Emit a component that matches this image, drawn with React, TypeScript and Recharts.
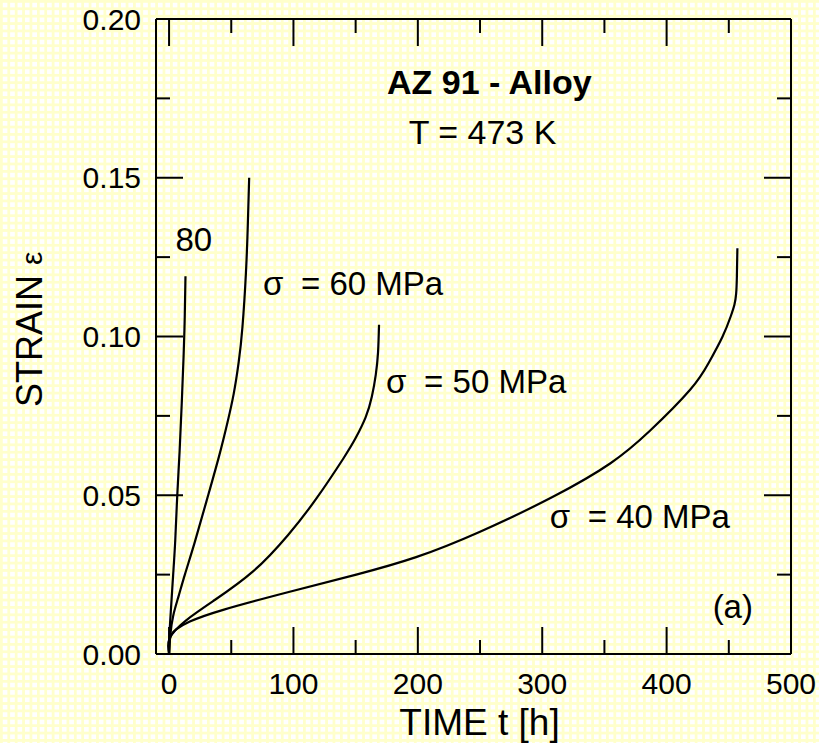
import React from 'react';
import { LineChart, Line, XAxis, YAxis, ReferenceDot } from 'recharts';

// Creep curves (time t [h], strain ε)
const curve80 = [
  { t: 0, e: 0 }, { t: 0.3, e: 0.006 }, { t: 1.5, e: 0.014 }, { t: 3.3, e: 0.025 },
  { t: 5, e: 0.036 }, { t: 6.6, e: 0.05 }, { t: 8.5, e: 0.064 }, { t: 10.2, e: 0.079 },
  { t: 11.7, e: 0.094 }, { t: 12.6, e: 0.106 }, { t: 13.2, e: 0.119 },
];
const curve60 = [
  { t: 0, e: 0 }, { t: 1, e: 0.006 }, { t: 3.3, e: 0.012 }, { t: 7.5, e: 0.018 },
  { t: 12.7, e: 0.025 }, { t: 20.5, e: 0.035 }, { t: 30, e: 0.048 }, { t: 40, e: 0.062 },
  { t: 47, e: 0.073 }, { t: 52, e: 0.082 }, { t: 56, e: 0.092 }, { t: 59, e: 0.103 },
  { t: 61.8, e: 0.12 }, { t: 63.3, e: 0.135 }, { t: 64.4, e: 0.15 },
];
const curve50 = [
  { t: 0, e: 0 }, { t: 0.5, e: 0.005 }, { t: 14, e: 0.0107 }, { t: 36.7, e: 0.017 },
  { t: 67.5, e: 0.026 }, { t: 95.7, e: 0.0375 }, { t: 118.5, e: 0.049 }, { t: 140, e: 0.0615 },
  { t: 150, e: 0.068 }, { t: 158, e: 0.0745 }, { t: 163, e: 0.081 }, { t: 166.2, e: 0.088 },
  { t: 168, e: 0.095 }, { t: 168.8, e: 0.1037 },
];
const curve40 = [
  { t: 0, e: 0 }, { t: 0.5, e: 0.004 }, { t: 2, e: 0.0062 }, { t: 6, e: 0.0078 },
  { t: 16.7, e: 0.0102 }, { t: 43.5, e: 0.0139 }, { t: 97, e: 0.0196 }, { t: 150.5, e: 0.025 },
  { t: 198.6, e: 0.0305 }, { t: 250, e: 0.0385 }, { t: 309, e: 0.0496 }, { t: 354.6, e: 0.06 },
  { t: 386.6, e: 0.0703 }, { t: 418.9, e: 0.0832 }, { t: 434, e: 0.0918 }, { t: 445, e: 0.1 },
  { t: 451.5, e: 0.1063 }, { t: 454.5, e: 0.11 }, { t: 455.9, e: 0.1135 }, { t: 456.5, e: 0.119 },
  { t: 456.9, e: 0.1278 },
];

const xTicks = [0, 50, 100, 150, 200, 250, 300, 350, 400, 450, 500];
const xMajor = [0, 100, 200, 300, 400, 500];
const yTicks = [0, 0.025, 0.05, 0.075, 0.1, 0.125, 0.15, 0.175, 0.2];
const yMajor = [0, 0.05, 0.1, 0.15, 0.2];

const FONT = '"Liberation Sans", Arial, Helvetica, sans-serif';
const MAJOR = 27;
const MINOR = 14;
const isXMajor = (v: number) => xMajor.some((m) => Math.abs(m - v) < 1e-9);
const isYMajor = (v: number) => yMajor.some((m) => Math.abs(m - v) < 1e-9);

const BottomTick = (p: any) => {
  const v = p.payload.value;
  const major = isXMajor(v);
  return (
    <g>
      <line x1={p.x} x2={p.x} y1={p.y} y2={p.y - (major ? MAJOR : MINOR)} stroke="#000" strokeWidth={2} />
      {major && (
        <text x={p.x} y={p.y + 40} textAnchor="middle" fontSize={30} fontFamily={FONT} fill="#000">
          {v}
        </text>
      )}
    </g>
  );
};
const TopTick = (p: any) => {
  const major = isXMajor(p.payload.value);
  return <line x1={p.x} x2={p.x} y1={p.y} y2={p.y + (major ? MAJOR : MINOR)} stroke="#000" strokeWidth={2} />;
};
const LeftTick = (p: any) => {
  const v = p.payload.value;
  const major = isYMajor(v);
  return (
    <g>
      <line x1={p.x} x2={p.x + (major ? MAJOR : MINOR)} y1={p.y} y2={p.y} stroke="#000" strokeWidth={2} />
      {major && (
        <text x={p.x - 15} y={p.y + 10.5} textAnchor="end" fontSize={30} fontFamily={FONT} fill="#000">
          {v.toFixed(2)}
        </text>
      )}
    </g>
  );
};
const RightTick = (p: any) => {
  const major = isYMajor(p.payload.value);
  return <line x1={p.x} x2={p.x - (major ? MAJOR : MINOR)} y1={p.y} y2={p.y} stroke="#000" strokeWidth={2} />;
};

const textShape = (content: React.ReactNode, anchor: string, size: number, bold = false) => (p: any) => (
  <text x={p.cx} y={p.cy} textAnchor={anchor} fontSize={size} fontFamily={FONT}
    fontWeight={bold ? 'bold' : 'normal'} fill="#000">
    {content}
  </text>
);

const sigmaLabel = (value: string) => (p: any) => (
  <text y={p.cy} fontSize={33} fontFamily={FONT} fill="#000">
    <tspan x={p.cx}>σ</tspan>
    <tspan x={p.cx + 38}>{'= ' + value + ' MPa'}</tspan>
  </text>
);

const XTitle = (p: any) => {
  const vb = p.viewBox && p.viewBox.width ? p.viewBox : { x: 156, y: 654, width: 635 };
  return (
    <text x={vb.x + vb.width / 2 + 6} y={654 + 81} textAnchor="middle" fontSize={37} fontFamily={FONT} fill="#000">
      TIME t [h]
    </text>
  );
};
const YTitle = () => {
  const x = 42;
  const y = 407;
  return (
    <text x={x} y={y} transform={`rotate(-90 ${x} ${y})`} textAnchor="start" fontSize={36} fontFamily={FONT} fill="#000">
      STRAIN <tspan fontSize={30}>ε</tspan>
    </text>
  );
};

export default function App() {
  return (
    <div
      style={{
        position: 'absolute', left: 0, top: 0, width: 819, height: 743,
        backgroundColor: '#ffffff',
        backgroundImage:
          'linear-gradient(#ffffcc 2.5px, transparent 2.5px), linear-gradient(90deg, #ffffcc 2.5px, transparent 2.5px)',
        backgroundSize: '7.4px 7.4px',
      }}
    >
      <LineChart width={819} height={743} margin={{ top: 18, right: 27, bottom: 88, left: 155 }}>
        <XAxis xAxisId="b" type="number" dataKey="t" domain={[-10.5, 500]} allowDataOverflow
          ticks={xTicks} interval={0} height={1} tickSize={0} tickMargin={0}
          axisLine={{ stroke: '#000', strokeWidth: 2 }} tickLine={false} tick={<BottomTick />}
          label={<XTitle />} />
        <XAxis xAxisId="t" orientation="top" type="number" dataKey="t" domain={[-10.5, 500]} allowDataOverflow
          ticks={xTicks} interval={0} height={1} tickSize={0} tickMargin={0}
          axisLine={{ stroke: '#000', strokeWidth: 2 }} tickLine={false} tick={<TopTick />} />
        <YAxis yAxisId="l" type="number" dataKey="e" domain={[0, 0.2]} allowDataOverflow
          ticks={yTicks} interval={0} width={1} tickSize={0} tickMargin={0}
          axisLine={{ stroke: '#000', strokeWidth: 2 }} tickLine={false} tick={<LeftTick />}
          label={<YTitle />} />
        <YAxis yAxisId="r" orientation="right" type="number" dataKey="e" domain={[0, 0.2]} allowDataOverflow
          ticks={yTicks} interval={0} width={1} tickSize={0} tickMargin={0}
          axisLine={{ stroke: '#000', strokeWidth: 2 }} tickLine={false} tick={<RightTick />} />

        <Line xAxisId="b" yAxisId="l" data={curve80} dataKey="e" type="natural" stroke="#000" strokeWidth={2.2} dot={false} isAnimationActive={false} />
        <Line xAxisId="b" yAxisId="l" data={curve60} dataKey="e" type="natural" stroke="#000" strokeWidth={2.2} dot={false} isAnimationActive={false} />
        <Line xAxisId="b" yAxisId="l" data={curve50} dataKey="e" type="natural" stroke="#000" strokeWidth={2.2} dot={false} isAnimationActive={false} />
        <Line xAxisId="b" yAxisId="l" data={curve40} dataKey="e" type="natural" stroke="#000" strokeWidth={2.2} dot={false} isAnimationActive={false} />

        <ReferenceDot xAxisId="b" yAxisId="l" x={257.5} y={0.1764} r={0} shape={textShape('AZ 91 - Alloy', 'middle', 34, true)} />
        <ReferenceDot xAxisId="b" yAxisId="l" x={252} y={0.1606} r={0} shape={textShape('T = 473 K', 'middle', 34)} />
        <ReferenceDot xAxisId="b" yAxisId="l" x={5.2} y={0.1268} r={0} shape={textShape('80', 'start', 33)} />
        <ReferenceDot xAxisId="b" yAxisId="l" x={75.5} y={0.1131} r={0} shape={sigmaLabel('60')} />
        <ReferenceDot xAxisId="b" yAxisId="l" x={174.5} y={0.0821} r={0} shape={sigmaLabel('50')} />
        <ReferenceDot xAxisId="b" yAxisId="l" x={306} y={0.0396} r={0} shape={sigmaLabel('40')} />
        <ReferenceDot xAxisId="b" yAxisId="l" x={437} y={0.0113} r={0} shape={textShape('(a)', 'start', 33)} />
      </LineChart>
    </div>
  );
}
